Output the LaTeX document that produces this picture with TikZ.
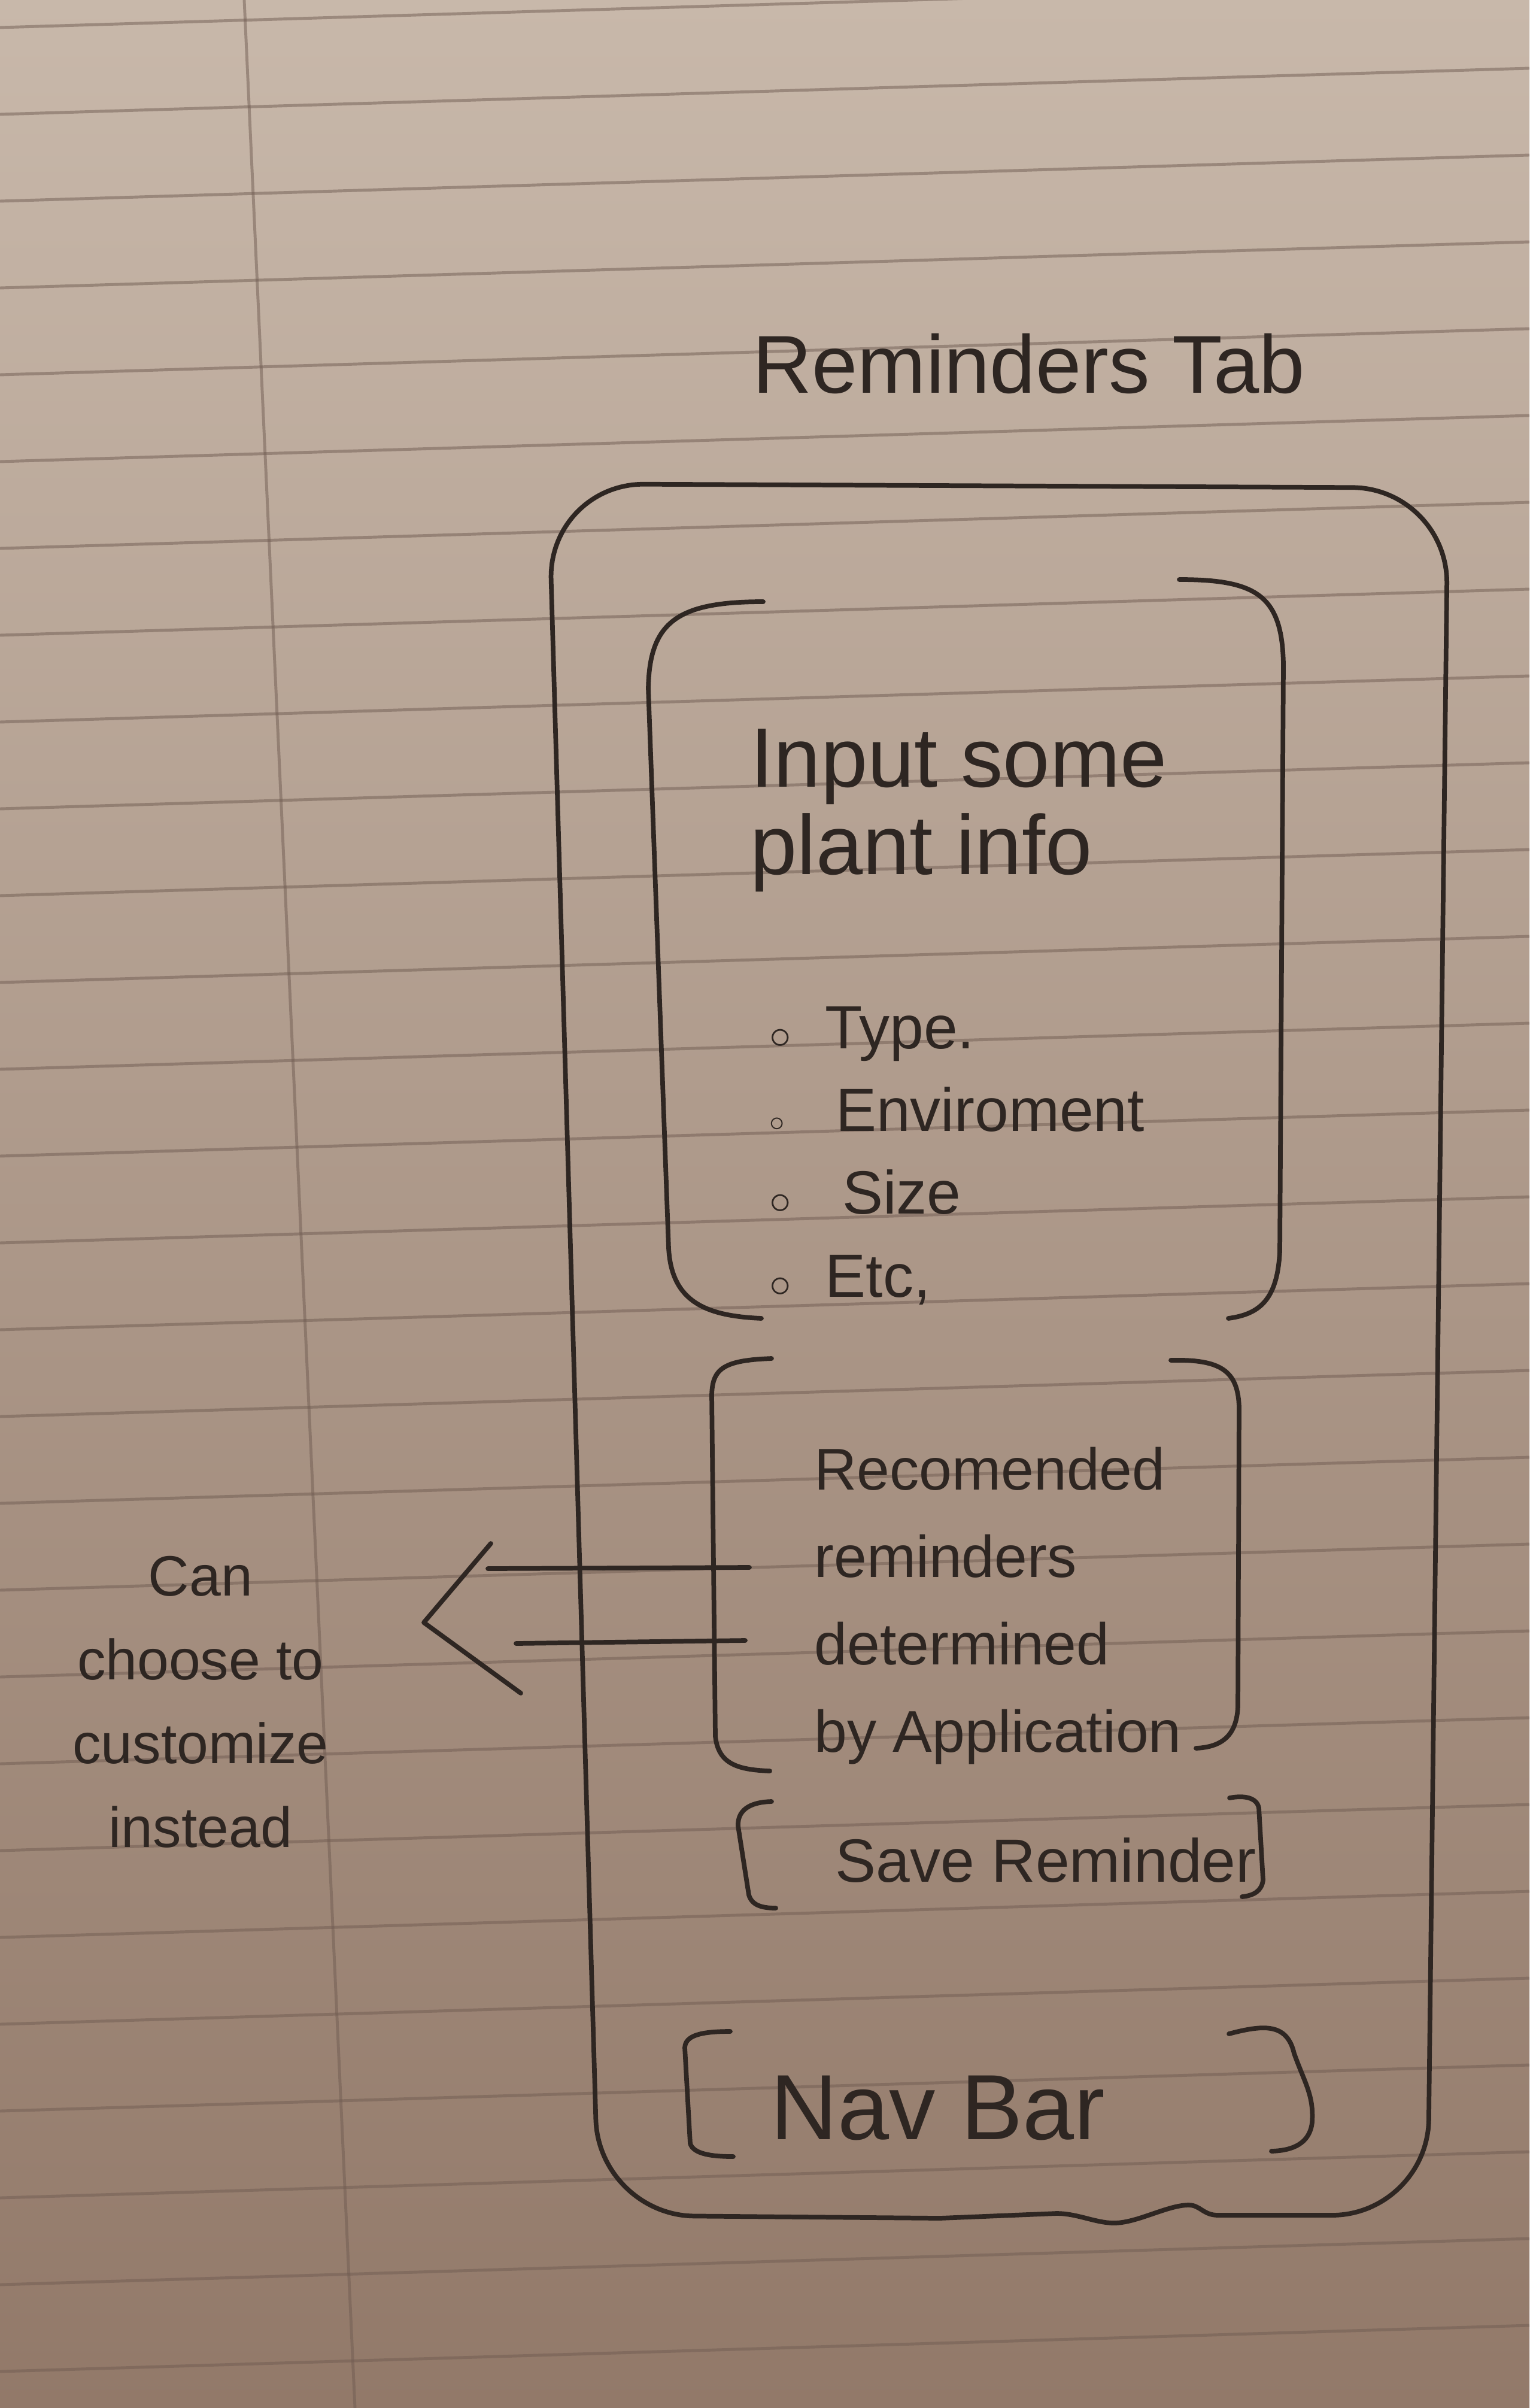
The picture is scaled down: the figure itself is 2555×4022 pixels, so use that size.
\documentclass[tikz,border=0pt]{standalone}
\usepackage{fontspec}
\setmainfont{Liberation Sans}
\usetikzlibrary{calc, positioning, shapes}

\definecolor{paper}{RGB}{200,184,170}
\definecolor{paperdark}{RGB}{146,121,105}
\definecolor{pencil}{RGB}{46,38,34}
\definecolor{ruling}{RGB}{112,92,82}

\tikzset{
  pen/.style={draw=pencil, line width=2.2pt, line cap=round, line join=round},
  hand/.style={text=pencil, inner sep=0pt, align=left},
  ruled/.style={draw=ruling, line width=1.4pt, opacity=0.5},
}

\begin{document}
\begin{tikzpicture}[x=0.01cm, y=-0.01cm]
    \useasboundingbox (0,0) rectangle (2555,4022);
    \shade[top color=paper, bottom color=paperdark] (0,0) rectangle (2555,4022);

    % notebook paper
    \foreach \k in {0,...,27} {
        \draw[ruled] (0,{46+145*\k}) -- (2555,{46+145*\k-77});
    }
    \draw[ruled] (408,0) -- (593,4022);

    \node[hand, font=\fontsize{39}{44}\selectfont, anchor=base west] (title) at (1257,657) {Reminders Tab};

    % phone outline
    \draw[pen, rounded corners=1.6cm] (1570,3705) -- (1000,3700) -- (916,808) -- (2419,815) -- (2385,3700) -- (2035,3700);
    \draw[pen] (2035,3700) .. controls (2010,3700) and (2005,3683) .. (1986,3683)
        .. controls (1950,3683) and (1900,3713) .. (1861,3713)
        .. controls (1830,3713) and (1800,3697) .. (1765,3697) -- (1570,3705);

    % input section
    \draw[pen] (1275,1005) .. controls (1130,1005) and (1085,1040) .. (1083,1150) -- (1117,2085)
        .. controls (1122,2175) and (1180,2198) .. (1272,2202);
    \draw[pen] (1970,968) .. controls (2100,968) and (2142,995) .. (2144,1110) -- (2138,2090)
        .. controls (2134,2170) and (2105,2195) .. (2052,2202);
    \node[hand, font=\fontsize{40}{41.5}\selectfont, anchor=base west] (inp) at (1253,1460) {Input some\\plant info};
    \node[hand, font=\fontsize{29}{39.3}\selectfont, anchor=base west] (specs) at (1285,2166)
        {{\fontsize{20}{20}\selectfont$\circ$}\ \ Type.\\
         {\fontsize{14}{14}\selectfont$\circ$}\ \ \ Enviroment\\
         {\fontsize{20}{20}\selectfont$\circ$}\ \ \ Size\\
         {\fontsize{20}{20}\selectfont$\circ$}\ \ Etc,};

    % recommended section
    \draw[pen] (1289,2269) .. controls (1210,2272) and (1190,2285) .. (1189,2330) -- (1195,2900)
        .. controls (1200,2945) and (1230,2956) .. (1286,2958);
    \draw[pen] (1956,2272) .. controls (2040,2270) and (2068,2290) .. (2070,2350) -- (2068,2850)
        .. controls (2066,2900) and (2040,2918) .. (1998,2920);
    \node[hand, font=\fontsize{28}{41.5}\selectfont, anchor=base west] (rec) at (1360,2926)
        {Recomended\\reminders\\determined\\by Application};

    % save button
    \draw[pen] (1289,3009) .. controls (1250,3010) and (1232,3025) .. (1233,3050) -- (1251,3165)
        .. controls (1256,3182) and (1272,3187) .. (1296,3187);
    \draw[pen] (2054,3003) .. controls (2080,2998) and (2100,3003) .. (2103,3020) -- (2110,3140)
        .. controls (2108,3158) and (2095,3166) .. (2075,3168);
    \node[hand, font=\fontsize{29}{34}\selectfont, anchor=base west] (save) at (1395,3143) {Save Reminder};

    % nav bar
    \draw[pen] (1220,3393) .. controls (1170,3393) and (1145,3400) .. (1144,3420) -- (1153,3580)
        .. controls (1158,3598) and (1190,3602) .. (1225,3602);
    \draw[pen] (2053,3397) .. controls (2110,3382) and (2150,3378) .. (2162,3430)
        .. controls (2180,3480) and (2195,3500) .. (2192,3545)
        .. controls (2188,3580) and (2160,3592) .. (2124,3593);
    \node[hand, font=\fontsize{44}{48}\selectfont, anchor=base west] (nav) at (1287,3573) {Nav Bar};

    % customise note and arrow
    \node[hand, align=center, font=\fontsize{27}{39.8}\selectfont, anchor=base] (note) at (335,3085)
        {Can\\choose to\\customize\\instead};
    \coordinate (hiR) at (1252,2618);
    \coordinate (hiL) at (815,2620);
    \coordinate (loR) at (1245,2740);
    \coordinate (loL) at (862,2745);
    \coordinate (tip) at (708,2710);
    \coordinate (armhi) at (820,2578);
    \coordinate (armlo) at (870,2828);
    \draw[pen] (hiR) -- (hiL);
    \draw[pen] (loR) -- (loL);
    \draw[pen] (armhi) -- (tip) -- (armlo);
\end{tikzpicture}
\end{document}
